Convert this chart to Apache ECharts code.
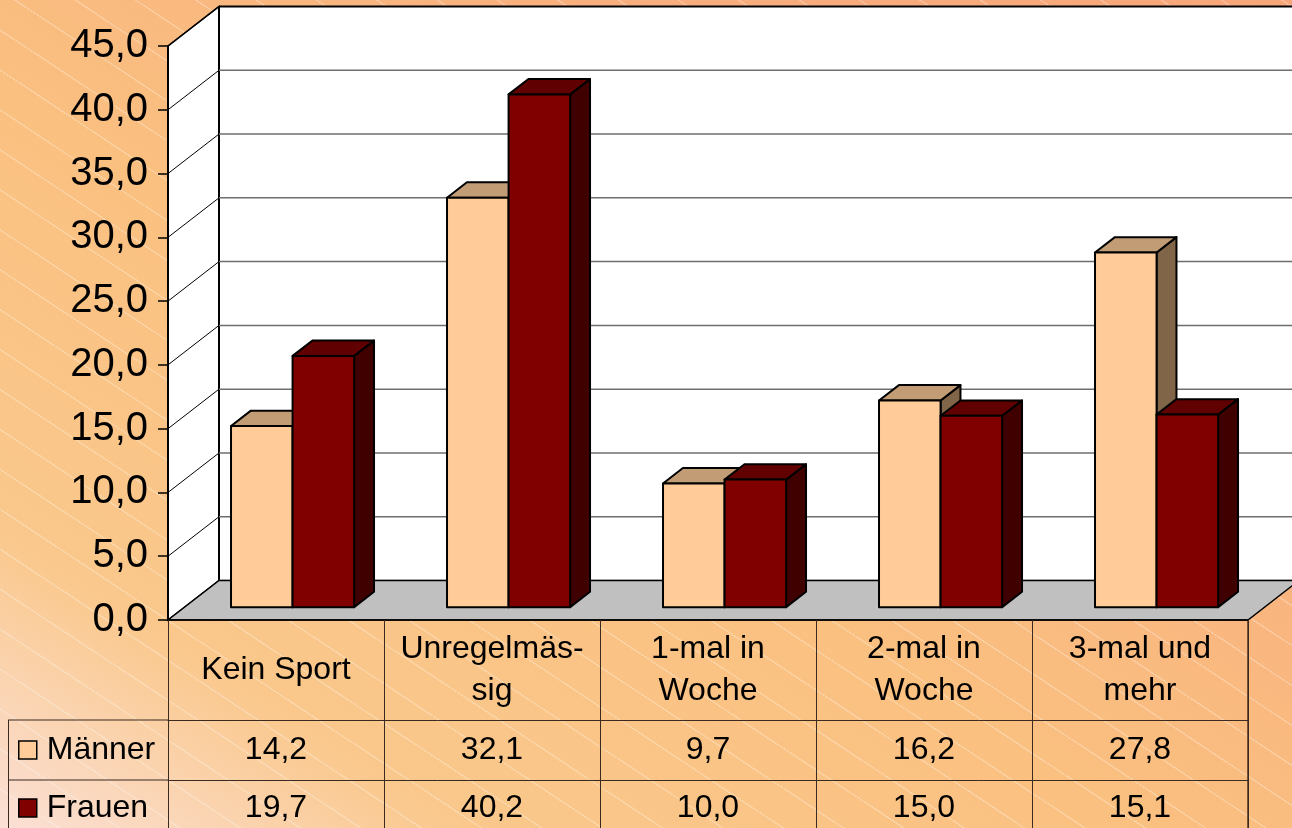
<!DOCTYPE html>
<html>
<head>
<meta charset="utf-8">
<script src="https://cdn.jsdelivr.net/npm/echarts@6/dist/echarts.min.js"></script>
<style>
  html, body { margin: 0; padding: 0; }
  #chart {
    width: 1292px; height: 828px;
    background:
      repeating-linear-gradient(33.5deg, rgba(255,255,255,0) 0 32px, rgba(255,255,255,0.28) 32px 33.3px),
      linear-gradient(to top right, #fbe0d6 0%, #fac88c 18%, #fac080 45%, #f8ae7e 75%, #f7a67a 100%);
  }
</style>
</head>
<body>
<div id="chart"></div>
<script>
// data
const categories = ['Kein Sport', 'Unregelmäs-\nsig', '1-mal in\nWoche', '2-mal in\nWoche', '3-mal und\nmehr']
const maenner = [14.2, 32.1, 9.7, 16.2, 27.8]
const frauen = [19.7, 40.2, 10.0, 15.0, 15.1]
const seriesNames = ['Männer', 'Frauen']
const yTicks = [0, 5, 10, 15, 20, 25, 30, 35, 40, 45]

const fmt = v => v.toFixed(1).replace('.', ',')
const FONT = '"Liberation Sans", Arial, sans-serif'

// oblique 3d look: offset of the back wall, bar depth range, bar width share of a band
const DEPTH = [51, -39.5]
const D0 = 0.325, D1 = 0.715
const BAR_FRAC = 0.285

const chart = echarts.init(document.getElementById('chart'), null, { renderer: 'canvas' })

function wallsItem(params) {
  const cs = params.coordSys
  const x0 = cs.x, x1 = cs.x + cs.width, yt = cs.y, yb = cs.y + cs.height
  const [dx, dy] = DEPTH
  return {
    type: 'group',
    children: [
      { type: 'polygon', shape: { points: [[x0 + dx, yt + dy], [x1 + dx + 60, yt + dy], [x1 + dx + 60, yb + dy], [x0 + dx, yb + dy]] },
        style: { fill: '#fff' } },
      { type: 'polygon', shape: { points: [[x0, yt], [x0 + dx, yt + dy], [x0 + dx, yb + dy], [x0, yb]] },
        style: { fill: '#fff', stroke: '#000', lineWidth: 1.5 } },
      { type: 'line', shape: { x1: x0 + dx, y1: yt + dy, x2: x0 + dx, y2: yb + dy }, style: { stroke: '#000', lineWidth: 2 } }
    ]
  }
}

function gridItem(params, api) {
  const cs = params.coordSys
  const x0 = cs.x, x1 = cs.x + cs.width
  const [dx, dy] = DEPTH
  const v = api.value(0)
  const y = api.coord([0, v])[1]
  const top = v === yTicks[yTicks.length - 1]
  return {
    type: 'group',
    children: [
      { type: 'line', shape: { x1: x0 + dx, y1: y + dy, x2: x1 + dx + 60, y2: y + dy },
        style: { stroke: top ? '#000' : '#6e6e6e', lineWidth: top ? 2 : 1.5 } },
      { type: 'line', shape: { x1: x0, y1: y, x2: x0 + dx, y2: y + dy },
        style: { stroke: '#000', lineWidth: top ? 1.5 : 1 } }
    ]
  }
}

function floorItem(params) {
  const cs = params.coordSys
  const x0 = cs.x, x1 = cs.x + cs.width, yb = cs.y + cs.height
  const [dx, dy] = DEPTH
  return {
    type: 'polygon',
    shape: { points: [[x0, yb], [x1, yb], [x1 + dx, yb + dy], [x0 + dx, yb + dy]] },
    style: { fill: '#c0c0c0', stroke: '#000', lineWidth: 1.5 }
  }
}

function makeBar(k, colors) {
  return function (params, api) {
    const i = api.value(0)
    const v = api.value(1)
    const base = api.coord([i, 0])
    const top = api.coord([i, v])[1]
    const bot = base[1]
    const bw = api.size([1, 0])[0] * BAR_FRAC
    const xl = base[0] - bw + k * bw
    const xr = xl + bw
    const f = [DEPTH[0] * D0, DEPTH[1] * D0]
    const b = [DEPTH[0] * D1, DEPTH[1] * D1]
    const line = { stroke: '#000', lineWidth: 2, lineJoin: 'round' }
    return {
      type: 'group',
      children: [
        { type: 'polygon', shape: { points: [[xr + f[0], top + f[1]], [xr + b[0], top + b[1]], [xr + b[0], bot + b[1]], [xr + f[0], bot + f[1]]] },
          style: Object.assign({ fill: colors[2] }, line) },
        { type: 'polygon', shape: { points: [[xl + f[0], top + f[1]], [xr + f[0], top + f[1]], [xr + b[0], top + b[1]], [xl + b[0], top + b[1]]] },
          style: Object.assign({ fill: colors[1] }, line) },
        { type: 'rect', shape: { x: xl + f[0], y: top + f[1], width: bw, height: bot - top },
          style: Object.assign({ fill: colors[0] }, line) }
      ]
    }
  }
}

const tableLine = '#3a2a20'
const tableLabel = { fontSize: 32, color: '#000', fontFamily: FONT, verticalAlign: 'middle', interval: 0 }

chart.setOption({
  backgroundColor: 'transparent',
  animation: false,
  textStyle: { fontFamily: FONT },
  grid: { left: 168, right: 44, top: 46, bottom: 208, containLabel: false, outerBoundsMode: 'none' },
  legend: {
    data: seriesNames,
    orient: 'vertical',
    left: 18,
    top: 734,
    padding: 0,
    itemWidth: 18,
    itemHeight: 18,
    itemGap: 26,
    icon: 'rect',
    selectedMode: false,
    itemStyle: { borderColor: '#000', borderWidth: 1.5 },
    textStyle: { fontSize: 32, lineHeight: 32, color: '#000', fontFamily: FONT, padding: [0, 0, 0, 5] }
  },
  xAxis: [
    {
      type: 'category', data: categories, position: 'bottom', z: 10,
      axisLine: { lineStyle: { color: '#000', width: 1.5 } },
      axisTick: { show: true, length: 208, lineStyle: { color: tableLine, width: 1 } },
      axisLabel: Object.assign({ margin: 50, lineHeight: 42 }, tableLabel),
      splitLine: { show: false }
    },
    {
      type: 'category', data: maenner.map(fmt), position: 'bottom', offset: 100, z: 10,
      axisLine: { lineStyle: { color: tableLine, width: 1 } },
      axisTick: { show: false },
      axisLabel: Object.assign({ margin: 30 }, tableLabel)
    },
    {
      type: 'category', data: frauen.map(fmt), position: 'bottom', offset: 160, z: 10,
      axisLine: { lineStyle: { color: tableLine, width: 1 } },
      axisTick: { show: false },
      axisLabel: Object.assign({ margin: 28 }, tableLabel)
    }
  ],
  yAxis: {
    type: 'value', min: 0, max: 45, interval: 5, z: 10,
    axisLine: { show: true, lineStyle: { color: '#000', width: 2 } },
    axisTick: { show: true, length: 10, lineStyle: { color: '#000', width: 1.5 } },
    axisLabel: { formatter: fmt, fontSize: 40, margin: 20, color: '#000', fontFamily: FONT },
    splitLine: { show: false }
  },
  graphic: [
    { type: 'line', shape: { x1: 8, y1: 720, x2: 168, y2: 720 }, style: { stroke: tableLine, lineWidth: 1 } },
    { type: 'line', shape: { x1: 8, y1: 780, x2: 168, y2: 780 }, style: { stroke: tableLine, lineWidth: 1 } },
    { type: 'line', shape: { x1: 8.5, y1: 720, x2: 8.5, y2: 828 }, style: { stroke: tableLine, lineWidth: 1 } },
    { type: 'line', shape: { x1: 1248, y1: 620, x2: 1248, y2: 828 }, style: { stroke: '#7a5236', lineWidth: 2 } }
  ],
  series: [
    { type: 'custom', name: 'walls', silent: true, z: 1, data: [[0]], renderItem: wallsItem },
    { type: 'custom', name: 'grid', silent: true, z: 2, data: yTicks.map(v => [v]), renderItem: gridItem },
    { type: 'custom', name: 'floor', silent: true, z: 3, data: [[0]], renderItem: floorItem },
    {
      type: 'custom', name: seriesNames[0], z: 4,
      itemStyle: { color: '#ffcc99' },
      data: maenner.map((v, i) => [i, v]),
      renderItem: makeBar(0, ['#ffcc99', '#c29c74', '#806548'])
    },
    {
      type: 'custom', name: seriesNames[1], z: 5,
      itemStyle: { color: '#800000' },
      data: frauen.map((v, i) => [i, v]),
      renderItem: makeBar(1, ['#800000', '#600000', '#400000'])
    }
  ]
})
</script>
</body>
</html>
